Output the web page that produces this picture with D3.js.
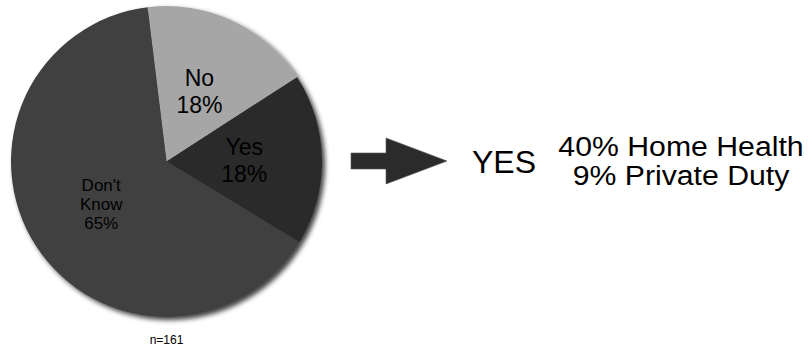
<!DOCTYPE html>
<html>
<head>
<meta charset="utf-8">
<script src="https://cdn.jsdelivr.net/npm/d3@7"></script>
<style>
  html, body { margin: 0; padding: 0; background: #fff; }
  svg { display: block; font-family: "Liberation Sans", Arial, sans-serif; }
</style>
</head>
<body>
<svg id="chart" width="811" height="351"></svg>
<script>
// Survey answers, in clockwise order from just left of 12 o'clock
const categories = ["No", "Yes", "Don't Know"];
const labelLines = [["No", "18%"], ["Yes", "18%"], ["Don't", "Know", "65%"]];
const values = [18, 18, 65];
const sampleNote = "n=161";
const calloutHead = "YES";
const calloutLines = ["40% Home Health", "9% Private Duty"];

const sliceColors = ["#a6a6a6", "#2b2b2b", "#404040"];

const svg = d3.select("#chart");
const cx = 166.5, cy = 161.5, radius = 155.5;

// soft shadow under the pie
const defs = svg.append("defs");
const f = defs.append("filter").attr("id", "pieShadow")
  .attr("x", "-10%").attr("y", "-10%").attr("width", "125%").attr("height", "125%");
f.append("feDropShadow").attr("dx", 3).attr("dy", 3).attr("stdDeviation", 2.5)
  .attr("flood-color", "#000").attr("flood-opacity", 0.75);

const start = -7 * Math.PI / 180;
const pie = d3.pie().sort(null).value(d => d)
  .startAngle(start).endAngle(start + 2 * Math.PI);
const arcs = pie(values);
const arc = d3.arc().innerRadius(0).outerRadius(radius);

const g = svg.append("g").attr("transform", `translate(${cx},${cy})`);
g.append("g").attr("filter", "url(#pieShadow)")
  .selectAll("path").data(arcs).join("path")
  .attr("d", arc)
  .attr("fill", (d, i) => sliceColors[i]);

// slice labels at the arc centroids
const fontSizes = [23, 23, 17];
const lineGaps = [27, 27, 19];
arcs.forEach((d, i) => {
  const [lx, ly] = arc.centroid(d);
  const lines = labelLines[i];
  const n = lines.length;
  const cap = fontSizes[i] * 0.716;
  const t = g.append("text")
    .attr("text-anchor", "middle")
    .attr("font-size", fontSizes[i])
    .attr("fill", "#000");
  lines.forEach((s, k) => {
    t.append("tspan")
      .attr("x", lx)
      .attr("y", ly + (k - (n - 1) / 2) * lineGaps[i] + cap / 2)
      .text(s);
  });
});

svg.append("text")
  .attr("x", cx).attr("y", 344)
  .attr("text-anchor", "middle")
  .attr("font-size", 12)
  .attr("fill", "#000")
  .text(sampleNote);

// arrow pointing to the callout
svg.append("path")
  .attr("d", "M351,153 L386,153 L386,138 L447,161 L386,184 L386,169 L351,169 Z")
  .attr("fill", "#2b2b2b")
  .attr("stroke", "#555").attr("stroke-width", 0.6);

svg.append("text")
  .attr("x", 472).attr("y", 173)
  .attr("font-size", 32)
  .attr("fill", "#000")
  .text(calloutHead);

const cg = svg.append("g").attr("transform", "translate(681,0) scale(1.12,1)");
calloutLines.forEach((s, k) => {
  cg.append("text")
    .attr("x", 0).attr("y", 156 + k * 29)
    .attr("text-anchor", "middle")
    .attr("font-size", 27)
    .attr("fill", "#000")
    .text(s);
});
</script>
</body>
</html>
